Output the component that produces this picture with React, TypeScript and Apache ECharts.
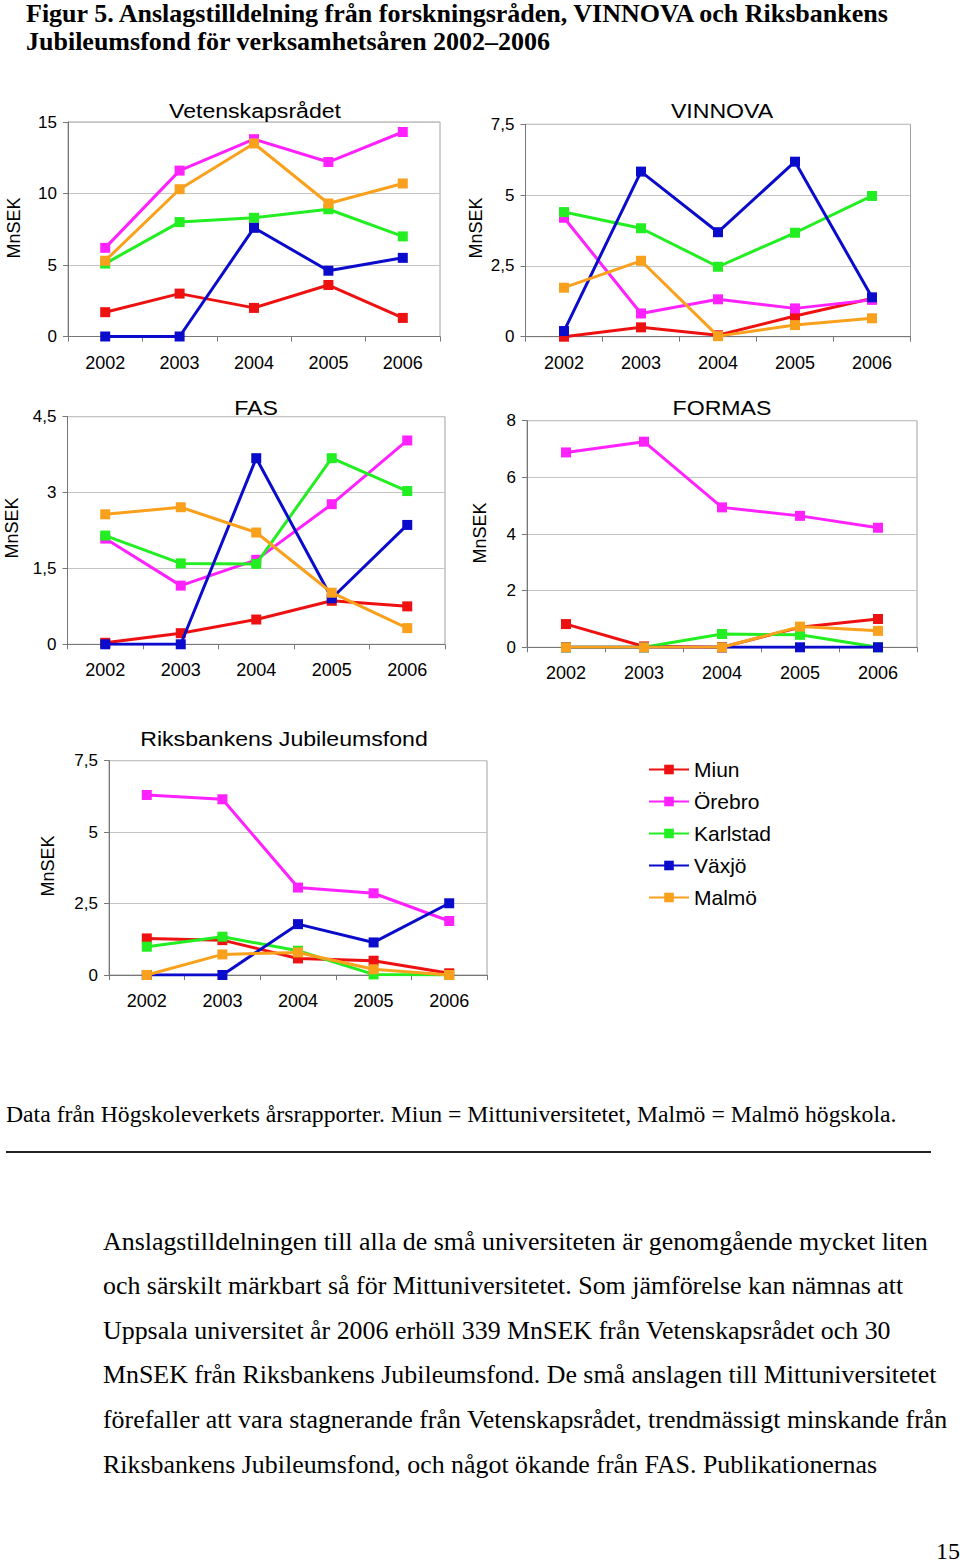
import React, { useEffect, useRef } from "react";
import * as echarts from "echarts";

const years = ["2002", "2003", "2004", "2005", "2006"];
const universities = ["Miun", "Örebro", "Karlstad", "Växjö", "Malmö"];
const colors = ["#ee1111", "#ff22ff", "#22ee22", "#0b0bcc", "#f9a01d"];

// Vetenskapsrådet
const vrMiun = [1.7, 3.0, 2.0, 3.6, 1.3];
const vrOrebro = [6.2, 11.6, 13.8, 12.2, 14.3];
const vrKarlstad = [5.1, 8.0, 8.3, 8.9, 7.0];
const vrVaxjo = [0, 0, 7.6, 4.6, 5.5];
const vrMalmo = [5.3, 10.3, 13.5, 9.3, 10.7];

// VINNOVA
const viMiun = [0.0, 0.33, 0.05, 0.73, 1.35];
const viOrebro = [4.2, 0.82, 1.32, 1.0, 1.3];
const viKarlstad = [4.4, 3.83, 2.47, 3.67, 4.97];
const viVaxjo = [0.2, 5.83, 3.69, 6.18, 1.39];
const viMalmo = [1.73, 2.68, 0.02, 0.41, 0.65];

// FAS
const fasMiun = [0.03, 0.22, 0.49, 0.86, 0.75];
const fasOrebro = [2.09, 1.16, 1.67, 2.77, 4.03];
const fasKarlstad = [2.15, 1.6, 1.59, 3.68, 3.03];
const fasVaxjo = [0, 0, 3.68, 0.91, 2.36];
const fasMalmo = [2.57, 2.71, 2.21, 1.02, 0.32];

// FORMAS
const foMiun = [0.82, 0.03, 0.0, 0.71, 1.0];
const foOrebro = [6.88, 7.26, 4.94, 4.64, 4.22];
const foKarlstad = [0, 0, 0.47, 0.44, 0];
const foVaxjo = [0, 0, 0, 0, 0];
const foMalmo = [0, 0, 0, 0.73, 0.58];

// Riksbankens Jubileumsfond
const rjMiun = [1.28, 1.22, 0.58, 0.5, 0.06];
const rjOrebro = [6.3, 6.15, 3.06, 2.86, 1.89];
const rjKarlstad = [0.99, 1.34, 0.85, 0.02, 0];
const rjVaxjo = [0, 0, 1.78, 1.14, 2.51];
const rjMalmo = [0, 0.72, 0.79, 0.2, 0];

const chartTitles = ["Vetenskapsrådet", "VINNOVA", "FAS", "FORMAS", "Riksbankens Jubileumsfond"];
const yMax = [15, 7.5, 4.5, 8, 7.5];
const yInterval = [5, 2.5, 1.5, 2, 2.5];

const figureTitle1 = "Figur 5. Anslagstilldelning från forskningsråden, VINNOVA och Riksbankens";
const figureTitle2 = "Jubileumsfond för verksamhetsåren 2002–2006";
const sourceNote = "Data från Högskoleverkets årsrapporter. Miun = Mittuniversitetet, Malmö = Malmö högskola.";
const paragraph = [
  "Anslagstilldelningen till alla de små universiteten är genomgående mycket liten",
  "och särskilt märkbart så för Mittuniversitetet. Som jämförelse kan nämnas att",
  "Uppsala universitet år 2006 erhöll 339 MnSEK från Vetenskapsrådet och 30",
  "MnSEK från Riksbankens Jubileumsfond. De små anslagen till Mittuniversitetet",
  "förefaller att vara stagnerande från Vetenskapsrådet, trendmässigt minskande från",
  "Riksbankens Jubileumsfond, och något ökande från FAS. Publikationernas",
];
const pageNumber = "15";

const chartData = [
  [vrMiun, vrOrebro, vrKarlstad, vrVaxjo, vrMalmo],
  [viMiun, viOrebro, viKarlstad, viVaxjo, viMalmo],
  [fasMiun, fasOrebro, fasKarlstad, fasVaxjo, fasMalmo],
  [foMiun, foOrebro, foKarlstad, foVaxjo, foMalmo],
  [rjMiun, rjOrebro, rjKarlstad, rjVaxjo, rjMalmo],
];

// layout
const grids = [
  { left: 68, top: 122, width: 372, height: 214.5 },
  { left: 525.5, top: 124.3, width: 385, height: 212.4 },
  { left: 67.5, top: 416.7, width: 377.5, height: 227.6 },
  { left: 527, top: 420.7, width: 390, height: 226.6 },
  { left: 109, top: 760.7, width: 378, height: 214.3 },
];
const titlePos = [
  [255, 111],
  [722, 111],
  [256, 408],
  [722, 408],
  [284, 739],
];
const ylabelPos = [
  [14, 228],
  [476, 228],
  [12, 528],
  [480, 533],
  [48, 866],
];

const SANS = "Liberation Sans, Arial, sans-serif";
const SERIF = "Liberation Serif, Times New Roman, serif";

export default function App() {
  const ref = useRef<HTMLDivElement>(null);
  useEffect(() => {
    if (!ref.current) return;
    const chart = echarts.init(ref.current, undefined, { renderer: "svg" });
    const grid: any[] = [];
    const xAxis: any[] = [];
    const yAxis: any[] = [];
    const series: any[] = [];
    const graphic: any[] = [];
    grids.forEach((g, i) => {
      grid.push({ ...g, show: true, borderColor: "#a0a0a0", borderWidth: 1, backgroundColor: "transparent" });
      xAxis.push({
        type: "category",
        gridIndex: i,
        data: years,
        boundaryGap: true,
        axisLine: { show: true, lineStyle: { color: "#777", width: 1 } },
        axisTick: { show: true, length: 5, inside: false, lineStyle: { color: "#777" } },
        axisLabel: { color: "#000", fontFamily: SANS, fontSize: 18, margin: 17 },
        splitLine: { show: false },
      });
      yAxis.push({
        type: "value",
        gridIndex: i,
        min: 0,
        max: yMax[i],
        interval: yInterval[i],
        axisLine: { show: true, lineStyle: { color: "#777", width: 1 } },
        axisTick: { show: true, length: 5, inside: false, lineStyle: { color: "#777" } },
        axisLabel: {
          color: "#000",
          fontFamily: SANS,
          fontSize: 17,
          margin: 11,
          formatter: (v: number) => String(v).replace(".", ","),
        },
        splitLine: { show: true, lineStyle: { color: "#c4c4c4", width: 1 } },
      });
      chartData[i].forEach((vals, k) => {
        series.push({
          type: "line",
          name: universities[k],
          xAxisIndex: i,
          yAxisIndex: i,
          data: vals,
          symbol: "rect",
          symbolSize: 10,
          showAllSymbol: true,
          lineStyle: { color: colors[k], width: 3 },
          itemStyle: { color: colors[k] },
          z: 2 + k,
        });
      });
      graphic.push({
        type: "text",
        x: titlePos[i][0],
        y: titlePos[i][1],
        scaleX: 1.1,
        style: {
          text: chartTitles[i],
          font: `21px ${SANS}`,
          fill: "#000",
          textAlign: "center",
          textVerticalAlign: "middle",
        },
      });
      graphic.push({
        type: "text",
        x: ylabelPos[i][0],
        y: ylabelPos[i][1],
        rotation: Math.PI / 2,
        style: {
          text: "MnSEK",
          font: `18px ${SANS}`,
          fill: "#000",
          textAlign: "center",
          textVerticalAlign: "middle",
        },
      });
    });
    graphic.push(
      {
        type: "text",
        x: 26,
        y: 0,
        style: { text: figureTitle1, font: `bold 26px ${SERIF}`, fill: "#000", textAlign: "left", textVerticalAlign: "top" },
      },
      {
        type: "text",
        x: 26,
        y: 28,
        style: { text: figureTitle2, font: `bold 26px ${SERIF}`, fill: "#000", textAlign: "left", textVerticalAlign: "top" },
      },
      {
        type: "text",
        x: 6,
        y: 1114,
        style: { text: sourceNote, font: `23.7px ${SERIF}`, fill: "#000", textAlign: "left", textVerticalAlign: "middle" },
      },
      {
        type: "line",
        shape: { x1: 6, y1: 1152, x2: 931, y2: 1152 },
        style: { stroke: "#222", lineWidth: 2 },
      },
      {
        type: "text",
        x: 948,
        y: 1551,
        style: { text: pageNumber, font: `24px ${SERIF}`, fill: "#000", textAlign: "center", textVerticalAlign: "middle" },
      }
    );
    paragraph.forEach((line, j) => {
      graphic.push({
        type: "text",
        x: 103,
        y: 1241 + j * 44.6,
        style: { text: line, font: `25.9px ${SERIF}`, fill: "#000", textAlign: "left", textVerticalAlign: "middle" },
      });
    });

    chart.setOption({
      animation: false,
      backgroundColor: "#fff",
      grid,
      xAxis,
      yAxis,
      series,
      graphic,
      legend: {
        data: universities,
        orient: "vertical",
        left: 643,
        top: 754,
        itemWidth: 40,
        itemHeight: 12,
        itemGap: 11,
        textStyle: { fontFamily: SANS, fontSize: 21, color: "#000" },
        selectedMode: false,
      },
    });
    return () => chart.dispose();
  }, []);
  return (
    <div
      ref={ref}
      style={{ position: "absolute", left: 0, top: 0, width: 960, height: 1564, background: "#fff" }}
    />
  );
}
